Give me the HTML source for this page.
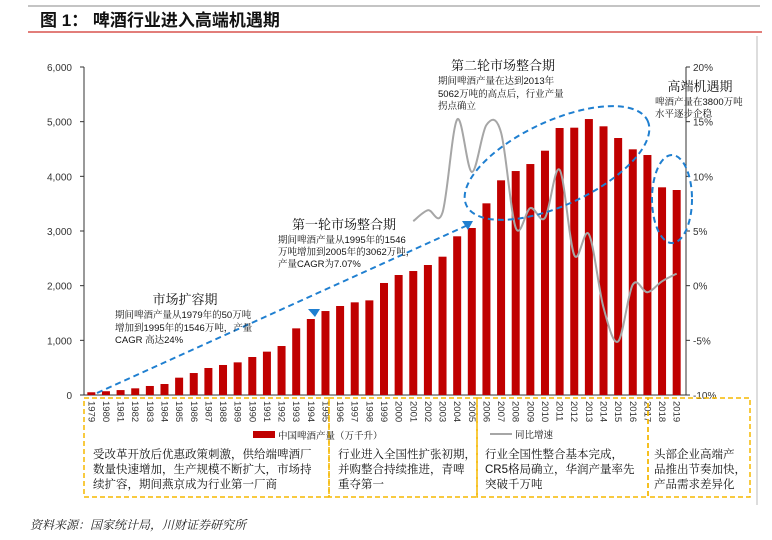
<!DOCTYPE html>
<html><head><meta charset="utf-8"><style>
body{margin:0;background:#fff;width:772px;height:540px;overflow:hidden;font-family:"Liberation Sans","Noto Serif CJK SC","Noto Sans CJK SC",serif}
svg{position:absolute;left:0;top:0}
</style></head><body>
<svg id="chart" width="772" height="540" xmlns="http://www.w3.org/2000/svg">
<line x1="28" y1="6" x2="760" y2="6" stroke="#888" stroke-width="1"/>
<text x="40" y="26" font-size="17" font-weight="bold" fill="#111" font-family="Liberation Sans,Noto Sans CJK SC,sans-serif">图 1： 啤酒行业进入高端机遇期</text>
<line x1="28" y1="32" x2="762" y2="32" stroke="#d9534f" stroke-width="1.5"/>
<line x1="757" y1="36" x2="757" y2="505" stroke="#bbb" stroke-width="1"/>
<g id="plot"></g>
<text x="30" y="529" font-size="12" font-style="italic" fill="#222">资料来源：国家统计局，川财证券研究所</text>
</svg>
<script>
const years=[];for(let y=1979;y<=2019;y++)years.push(String(y));
const production=[50,69,90,122,165,201,317,402,494,549,597,695,793,896,1219,1390,1536,1628,1695,1731,2049,2195,2268,2378,2530,2903,3055,3506,3927,4097,4225,4469,4884,4890,5048,4915,4701,4494,4390,3799,3750];
const growthYears=["2001","2002","2003","2004","2005","2006","2007","2008","2009","2010","2011","2012","2013","2014","2015","2016","2017","2018","2019"];
const growth=[5.9,6.9,6.7,15.2,10.4,14.7,14.0,5.3,7.1,6.2,10.6,2.8,4.7,-2.0,-5.1,0.1,-0.6,0.4,1.1];
const leftTicks=[0,1000,2000,3000,4000,5000,6000];
const leftTickLabels=["0","1,000","2,000","3,000","4,000","5,000","6,000"];
const rightTicks=[-10,-5,0,5,10,15,20];
const rightTickLabels=["-10%","-5%","0%","5%","10%","15%","20%"];
const NS="http://www.w3.org/2000/svg";
const X0=84,X1=684,Y0=395,Y1=67;
const band=(X1-X0)/years.length;
const xc=y=>X0+band*(years.indexOf(y)+0.5);
const yL=v=>Y0-(v/6000)*(Y0-Y1);
const yR=v=>Y0-((v+10)/30)*(Y0-Y1);
const g=document.getElementById('plot');
function mk(t,a,txt){const e=document.createElementNS(NS,t);for(const k in a)e.setAttribute(k,a[k]);if(txt!==undefined)e.textContent=txt;g.appendChild(e);return e;}
// axes
let e=mk('line',{x1:X0,y1:Y1,x2:X0,y2:Y0,stroke:'#333','stroke-width':1});


e=mk('line',{x1:X1+2,y1:Y1,x2:X1+2,y2:Y0,stroke:'#333','stroke-width':1});


e=mk('line',{x1:X0,y1:Y0,x2:X1+2,y2:Y0,stroke:'#333','stroke-width':1});


leftTicks.forEach((v,i)=>{
 const t=mk('line',{x1:X0-4,y1:yL(v),x2:X0,y2:yL(v),stroke:'#333'});
 
 
 const l=mk('text',{x:72,y:yL(v)+4,'font-size':10,'text-anchor':'end',fill:'#333'},leftTickLabels[i]);
 
 
});
rightTicks.forEach((v,i)=>{
 const t=mk('line',{x1:X1+2,y1:yR(v),x2:X1+6,y2:yR(v),stroke:'#333'});
 
 
 const l=mk('text',{x:X1+9,y:yR(v)+4,'font-size':10,fill:'#333'},rightTickLabels[i]);
 
 
});
// bars
production.forEach((v,i)=>{
 const b=mk('rect',{x:xc(years[i])-4,y:yL(v),width:8,height:Y0-yL(v),fill:'#c00000'});
 
 
 const l=mk('text',{transform:`translate(${xc(years[i])-3},401) rotate(90)`,'font-size':9.5,fill:'#333'},years[i]);
 
 
});
// growth smooth line
const pts=growth.map((v,i)=>[xc(growthYears[i]),yR(v)]);
let d='M'+pts[0][0]+','+pts[0][1];
for(let i=0;i<pts.length-1;i++){
 const p0=pts[i-1]||pts[i],p1=pts[i],p2=pts[i+1],p3=pts[i+2]||p2;
 const c1=[p1[0]+(p2[0]-p0[0])/6,p1[1]+(p2[1]-p0[1])/6],c2=[p2[0]-(p3[0]-p1[0])/6,p2[1]-(p3[1]-p1[1])/6];
 d+=` C${c1} ${c2} ${p2}`;
}
e=mk('path',{d:d,fill:'none',stroke:'#a6a6a6','stroke-width':2});


// blue dashed annotations
e=mk('path',{d:'M97,393 L468,225',stroke:'#1f7fd0','stroke-width':2,'stroke-dasharray':'6,4',fill:'none'});


e=mk('polygon',{points:'320,309 308,309 315,317',fill:'#1f7fd0'});


e=mk('polygon',{points:'473,221 462,221 468,230',fill:'#1f7fd0'});


e=mk('ellipse',{cx:557,cy:163,rx:100,ry:42,transform:'rotate(-25 557 163)',fill:'none',stroke:'#1f7fd0','stroke-width':2,'stroke-dasharray':'6,4'});


e=mk('ellipse',{cx:672,cy:199,rx:20,ry:44,fill:'none',stroke:'#1f7fd0','stroke-width':2,'stroke-dasharray':'6,4'});


// annotation texts
function txt(x,y,s,size,name,anchor){const t=mk('text',{x:x,y:y,'font-size':size,fill:'#111','text-anchor':anchor||'start'},s);}
txt(185,304,'市场扩容期',13,'annotation-expansion-title','middle');
txt(115,318,'期间啤酒产量从1979年的50万吨',9.5,'annotation-expansion-text');
txt(115,331,'增加到1995年的1546万吨，产量',9.5,'annotation-expansion-text');
txt(115,343,'CAGR 高达24%',9.5,'annotation-expansion-text');
txt(344,229,'第一轮市场整合期',13,'annotation-first-title','middle');
txt(278,243,'期间啤酒产量从1995年的1546',9.5,'annotation-first-text');
txt(278,255,'万吨增加到2005年的3062万吨，',9.5,'annotation-first-text');
txt(278,267,'产量CAGR为7.07%',9.5,'annotation-first-text');
txt(503,70,'第二轮市场整合期',13,'annotation-second-title','middle');
txt(438,84,'期间啤酒产量在达到2013年',9.5,'annotation-second-text');
txt(438,97,'5062万吨的高点后，行业产量',9.5,'annotation-second-text');
txt(438,109,'拐点确立',9.5,'annotation-second-text');
txt(700,91,'高端机遇期',13,'annotation-premium-title','middle');
txt(655,105,'啤酒产量在3800万吨',9.5,'annotation-premium-text');
txt(655,117,'水平逐步企稳',9.5,'annotation-premium-text');
// bottom boxes
[[84,329],[329,477],[477,648],[648,750]].forEach((b,i)=>{
 const r=mk('rect',{x:b[0],y:398,width:b[1]-b[0],height:99,fill:'none',stroke:'#f5b800','stroke-width':1.5,'stroke-dasharray':'5,3'});
 
 
});
e=mk('rect',{x:253,y:431,width:22,height:7,fill:'#c00000'});


txt(278,439,'中国啤酒产量（万千升）',9.5,'legend-production-label');
e=mk('line',{x1:490,y1:434,x2:512,y2:434,stroke:'#a6a6a6','stroke-width':2});


txt(515,438,'同比增速',9.5,'legend-growth-label');
const boxText=[[93,['受改革开放后优惠政策刺激，供给端啤酒厂','数量快速增加，生产规模不断扩大，市场持','续扩容，期间燕京成为行业第一厂商']],
[338,['行业进入全国性扩张初期，','并购整合持续推进，青啤','重夺第一']],
[485,['行业全国性整合基本完成，','CR5格局确立，华润产量率先','突破千万吨']],
[654,['头部企业高端产','品推出节奏加快，','产品需求差异化']]];
boxText.forEach((b,i)=>b[1].forEach((s,j)=>txt(b[0],458+j*15,s,11.5,'phase-desc-'+(i+1))));
</script>
</body></html>
